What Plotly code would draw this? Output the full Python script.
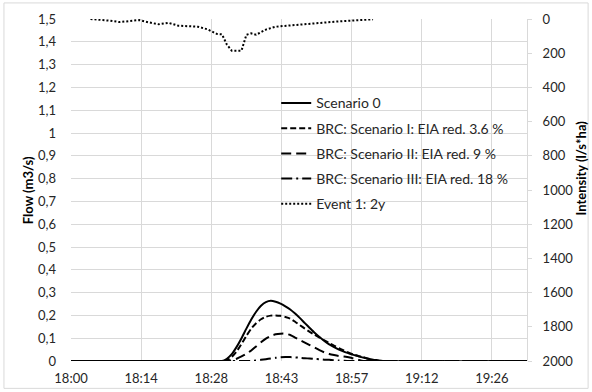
import plotly.graph_objects as go

# Time axis: minutes after 18:00
TICK_MINUTES = [0, 14.4, 28.8, 43.2, 57.6, 72.0, 86.4]
TICK_LABELS = ["18:00", "18:14", "18:28", "18:43", "18:57", "19:12", "19:26"]
X_END = 93.6

# Runoff hydrographs (m3/s)
flow_minutes = [0, 30, 31, 32, 33, 34, 35, 36, 37, 38, 39, 40, 41, 42, 43, 44, 45, 46, 47,
                48, 49, 50, 51, 52, 53, 54, 55, 56, 57, 58, 59, 60, 61, 62, 63, 64, 93.6]
scenario_0 = [0, 0, 0, 0.010, 0.030, 0.062, 0.100, 0.142, 0.182, 0.216, 0.242, 0.258, 0.264,
              0.260, 0.252, 0.240, 0.226, 0.208, 0.188, 0.166, 0.145, 0.124, 0.105, 0.088,
              0.073, 0.061, 0.050, 0.041, 0.034, 0.027, 0.021, 0.015, 0.010, 0.006, 0.003, 0, 0]
scenario_1 = [0, 0, 0, 0.004, 0.018, 0.042, 0.075, 0.110, 0.142, 0.166, 0.183, 0.194, 0.199,
              0.200, 0.198, 0.193, 0.186, 0.172, 0.157, 0.142, 0.128, 0.115, 0.103, 0.091,
              0.079, 0.067, 0.056, 0.046, 0.037, 0.029, 0.022, 0.016, 0.010, 0.005, 0.001, 0, 0]
scenario_2 = [0, 0, 0, 0, 0.003, 0.010, 0.020, 0.032, 0.046, 0.064, 0.082, 0.098, 0.110,
              0.117, 0.120, 0.120, 0.114, 0.103, 0.092, 0.081, 0.070, 0.059, 0.048, 0.038,
              0.031, 0.026, 0.022, 0.020, 0.016, 0.011, 0.005, 0, 0, 0, 0, 0, 0]
scenario_3 = [0, 0, 0, 0, 0, 0, 0, 0, 0, 0.002, 0.005, 0.008, 0.011, 0.014, 0.016, 0.017,
              0.017, 0.016, 0.014, 0.012, 0.011, 0.009, 0.008, 0.006, 0.005, 0.003, 0.002,
              0.001, 0, 0, 0, 0, 0, 0, 0, 0, 0]

# Rainfall intensity (l/s*ha), plotted on the reversed right axis
rain_minutes = [4, 6, 8, 10, 12, 14, 16, 18, 20, 22, 24, 26, 28, 30, 31, 32, 33, 34, 35,
                36, 37, 38, 40, 42, 44, 46, 48, 50, 52, 54, 56, 58, 60, 62]
rain_intensity = [0, 4, 10, 18, 12, 6, 20, 31, 22, 39, 42, 45, 60, 88, 90, 150, 185, 185, 185,
                  92, 84, 92, 62, 45, 40, 34, 28, 22, 18, 16, 12, 9, 6, 2]

series = [
    ("Scenario 0", scenario_0, "solid"),
    ("BRC: Scenario I: EIA red. 3.6 %", scenario_1, "6px,3px"),
    ("BRC: Scenario II: EIA red. 9 %", scenario_2, "10px,5px"),
    ("BRC: Scenario III: EIA red. 18 %", scenario_3, "11px,4px,2px,4px"),
]

FONT = "Lato, 'Open Sans', sans-serif"
TEXT = "#262626"
GRID = "#d9d9d9"

fig = go.Figure()
for i, (name, values, dash) in enumerate(series):
    fig.add_trace(go.Scatter(
        x=flow_minutes, y=values, name=name, mode="lines", legendgroup=f"g{i}",
        line=dict(color="black", width=2, dash=dash, shape="spline", smoothing=0.6),
    ))
fig.add_trace(go.Scatter(
    x=rain_minutes, y=rain_intensity, name="Event 1: 2y", mode="lines", yaxis="y2",
    legendgroup="g4", line=dict(color="black", width=2, dash="2px,2px"),
))

fig.update_layout(
    width=592, height=392,
    margin=dict(l=71, r=65, t=19, b=31, autoexpand=False),
    paper_bgcolor="white", plot_bgcolor="white",
    font=dict(family=FONT, size=13, color=TEXT),
    separators=", ",
    showlegend=True,
    legend=dict(
        x=0.45, y=0.80, xanchor="left", yanchor="top",
        bgcolor="rgba(0,0,0,0)", font=dict(size=14, color=TEXT),
        traceorder="grouped", tracegroupgap=4, itemwidth=30,
    ),
    xaxis=dict(
        range=[0, X_END], tickvals=TICK_MINUTES, ticktext=TICK_LABELS,
        showgrid=True, gridcolor=GRID, gridwidth=1, zeroline=False,
        showline=False, ticks="", ticklabelstandoff=8, automargin=False,
        tickfont=dict(size=13, color=TEXT),
    ),
    yaxis=dict(
        range=[0, 1.5], dtick=0.1, tick0=0,
        showgrid=True, gridcolor=GRID, gridwidth=1, zeroline=False,
        showline=False, ticks="", ticklabelstandoff=14, automargin=False,
        tickfont=dict(size=13, color=TEXT),
    ),
    yaxis2=dict(
        overlaying="y", side="right", range=[2000, 0], dtick=200, tick0=0,
        showgrid=False, zeroline=False, showline=True, linecolor=GRID, linewidth=1,
        ticks="outside", ticklen=4, tickcolor=GRID, ticklabelstandoff=8, automargin=False,
        tickfont=dict(size=13, color=TEXT),
    ),
    shapes=[
        dict(type="rect", xref="paper", yref="paper",
             x0=-0.147, x1=1.134, y0=-0.08, y1=1.047,
             line=dict(color=GRID, width=1), fillcolor="rgba(0,0,0,0)", layer="below"),
    ],
    annotations=[
        dict(text="<b>Flow (m3/s)</b>", xref="paper", yref="paper", x=-0.094, y=0.50,
             xanchor="center", yanchor="middle",
             textangle=-90, showarrow=False, font=dict(size=13, color="black")),
        dict(text="<b>Intensity (l/s*ha)</b>", xref="paper", yref="paper", x=1.118, y=0.565,
             xanchor="center", yanchor="middle",
             textangle=-90, showarrow=False, font=dict(size=13, color="black")),
    ],
)

fig.write_html("out.html")
